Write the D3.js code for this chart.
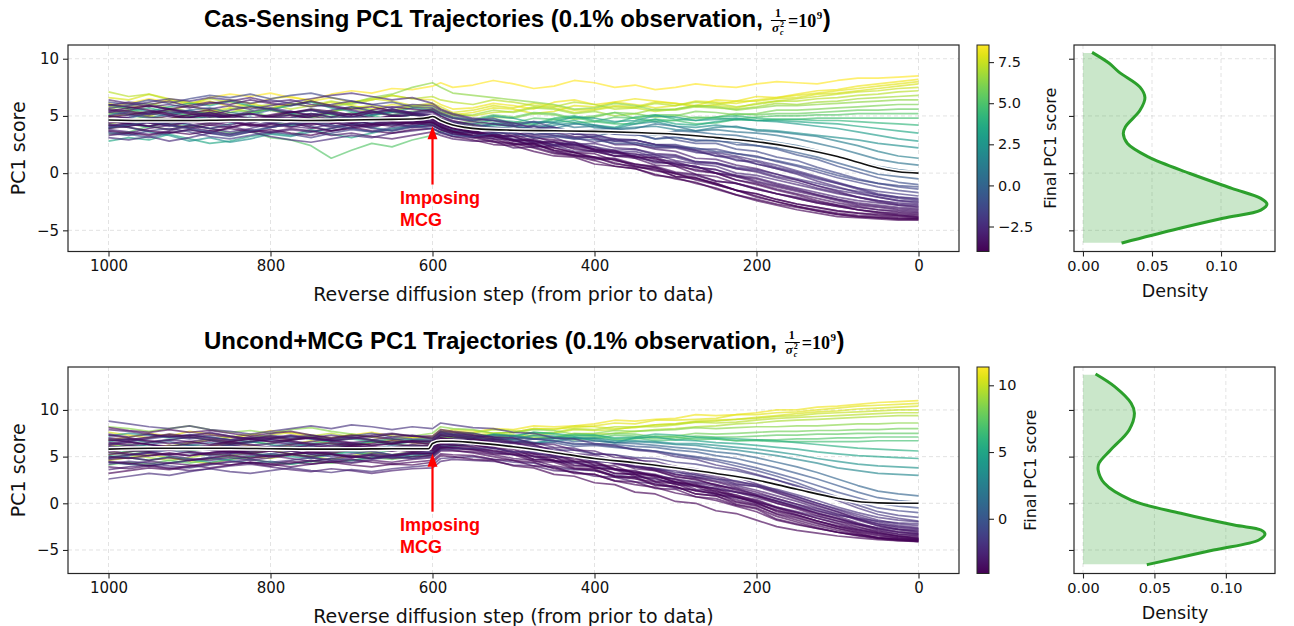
<!DOCTYPE html>
<html>
<head>
<meta charset="utf-8">
<script src="https://cdn.jsdelivr.net/npm/d3@7"></script>
<style>
  body { margin: 0; background: #fff; }
  svg { display: block; }
</style>
</head>
<body>
<svg id="fig" width="1294" height="626"></svg>
<script>
// Reverse-diffusion steps at which each trajectory is recorded
const knotSteps = [1000,975,950,925,900,875,850,825,800,775,750,725,700,675,650,625,600,590,575,550,525,500,475,450,425,400,375,350,325,300,275,250,225,200,175,150,125,100,75,50,25,0];

// Cas-Sensing: PC1 score of each sampled trajectory at knotSteps (last value = final score)
const casPaths = [
  [5.8,6.1,6.5,6.2,6.0,6.6,6.9,6.7,7.0,6.6,6.4,6.9,7.2,7.0,7.4,7.3,7.6, 7.9,7.5, 7.7,8.1,7.8,7.4,7.6,8.1,7.9,7.5,7.7,7.3,7.5,7.8,7.6,7.5,7.8,8.0,7.9,7.8,8.1,8.3,8.3,8.4,8.5],
  [6.1,5.7,5.9,6.4,6.1,6.3,5.8,6.0,6.5,6.7,6.3,6.6,6.2,6.4,6.8,6.5,6.4, 6.0,5.6, 5.7,6.1,5.9,5.6,6.2,6.4,6.0,6.2,6.5,6.3,6.1,5.9,6.4,6.3,6.7,6.6,6.9,7.2,7.3,7.6,7.8,8.0,8.2],
  [4.9,5.2,5.0,5.5,5.9,5.4,5.7,5.3,5.6,6.1,5.8,6.2,5.9,5.6,6.0,5.8,6.0, 5.6,5.1, 5.3,5.7,5.6,5.2,5.4,5.9,5.8,6.2,6.0,5.7,5.9,6.3,6.2,6.1,6.4,6.6,6.8,7.0,7.2,7.4,7.6,7.8,8.0],
  [6.6,6.4,6.9,6.5,6.2,6.0,6.4,6.1,5.7,6.0,6.3,5.9,6.2,6.5,6.3,5.9,6.1, 5.8,5.3, 5.5,5.9,5.7,6.1,5.9,5.5,5.6,5.9,5.8,6.2,6.1,5.8,6.0,6.3,6.3,6.5,6.6,6.9,7.0,7.2,7.4,7.6,7.8],
  [5.2,5.5,4.9,4.7,5.1,5.6,5.3,5.8,5.5,5.1,4.9,5.4,5.7,5.9,5.4,5.8,5.6, 5.3,5.2, 5.0,5.3,5.4,5.8,5.7,5.3,5.5,5.8,5.7,5.4,5.6,5.9,5.9,5.7,6.1,6.3,6.5,6.7,6.9,7.1,7.2,7.4,7.5],
  [7.1,6.7,6.9,6.4,6.1,6.5,6.2,5.8,6.0,5.6,5.9,6.3,6.0,6.4,6.8,6.5,6.7, 6.4,6.2, 6.0,6.4,6.2,5.9,5.8,6.2,6.0,5.6,5.7,6.1,5.9,6.2,6.1,5.8,6.0,6.3,6.3,6.5,6.6,6.8,6.9,7.1,7.2],
  [4.3,4.6,5.0,4.7,5.1,5.4,5.0,5.3,5.6,5.2,4.9,5.4,5.7,5.3,5.5,5.9,5.8, 5.4,5.0, 5.1,5.5,5.3,5.7,5.6,5.2,5.4,5.0,5.2,5.6,5.5,5.8,5.7,5.6,5.8,6.1,6.0,6.2,6.3,6.5,6.6,6.7,6.8],
  [5.6,5.9,6.1,5.7,5.4,5.2,5.6,5.9,5.5,6.0,6.3,5.8,6.1,6.6,6.9,7.5,7.9, 7.5,7.0, 6.8,6.6,6.4,6.2,6.0,5.6,5.7,6.1,5.9,5.5,5.6,5.9,5.8,5.5,5.7,5.9,5.9,6.0,6.1,6.2,6.3,6.4,6.4],
  [3.9,4.2,4.6,4.3,4.0,4.4,4.7,4.5,5.0,4.6,4.8,5.2,4.9,5.3,5.1,4.7,5.0, 4.8,4.4, 4.5,4.9,4.8,5.2,5.1,4.7,4.9,5.3,5.2,4.9,5.0,5.4,5.3,5.1,5.2,5.5,5.5,5.6,5.7,5.8,5.9,6.0,6.0],
  [5.9,5.6,5.2,5.5,5.0,4.8,5.3,5.5,4.9,5.2,5.6,5.3,5.8,5.5,5.1,5.4,5.5, 5.2,4.9, 4.7,5.1,4.9,5.3,5.2,4.8,5.0,5.3,4.8,5.1,5.1,4.8,4.9,5.2,5.1,5.2,5.2,5.3,5.4,5.5,5.5,5.6,5.6],
  [3.4,3.6,4.1,3.8,4.2,3.9,3.5,3.7,3.1,2.9,2.4,1.3,2.0,2.6,2.3,2.9,3.3, 3.6,3.8, 4.0,4.3,4.4,4.8,4.7,4.4,4.5,4.9,4.8,4.5,4.6,4.9,4.8,4.7,4.9,5.0,5.0,5.1,5.1,5.2,5.2,5.2,5.2],
  [4.6,4.3,4.0,4.5,4.9,4.6,5.1,4.8,4.5,4.2,4.6,4.9,5.3,5.0,5.4,5.1,4.9, 4.6,4.3, 4.2,4.6,4.4,4.2,4.7,4.9,4.5,4.3,4.3,4.7,4.6,4.3,4.4,4.7,4.6,4.7,4.7,4.8,4.8,4.8,4.8,4.8,4.8],
  [5.1,5.4,5.7,5.3,5.0,4.7,4.9,5.3,5.6,5.2,5.5,5.1,4.8,5.0,4.7,5.1,5.0, 4.7,4.4, 4.3,4.7,4.5,4.3,4.8,5.0,4.6,4.4,4.9,5.1,4.7,4.6,4.9,5.0,4.8,4.7,4.7,4.6,4.6,4.5,4.4,4.3,4.2],
  [2.8,3.1,2.9,3.4,3.0,2.6,2.8,3.2,3.5,3.3,3.8,3.4,3.1,3.5,3.9,4.1,4.3, 4.0,3.7, 3.8,4.2,4.1,3.8,4.4,4.6,4.2,4.0,4.5,4.7,4.3,4.2,4.5,4.7,4.6,4.6,4.5,4.4,4.3,4.1,3.9,3.7,3.5],
  [6.0,5.7,5.4,5.8,6.1,5.9,6.3,5.9,5.6,5.9,6.2,5.7,5.4,5.1,5.3,5.7,5.5, 5.1,4.8, 4.6,5.0,4.8,4.4,4.5,4.9,4.8,4.5,4.6,5.0,4.9,4.6,4.7,4.8,4.6,4.5,4.3,4.1,3.9,3.6,3.3,3.0,2.8],
  [4.2,4.0,3.6,3.3,2.8,3.1,2.7,3.0,3.4,3.2,3.6,3.9,4.3,4.0,3.7,4.1,4.2, 3.9,3.5, 3.6,4.0,3.9,3.7,4.2,4.4,4.0,3.9,4.3,4.5,4.1,4.0,4.2,4.0,3.8,3.7,3.5,3.3,3.1,2.9,2.6,2.4,2.2],
  [3.9,4.3,4.1,4.5,4.2,3.9,4.3,4.7,4.4,4.1,4.5,4.8,4.3,4.6,4.9,5.1,4.9, 4.5,4.1, 4.0,4.4,4.2,3.8,3.9,4.3,4.2,3.9,4.0,4.1,3.8,3.7,4.0,4.1,3.7,3.6,3.4,3.2,2.8,2.4,1.9,1.5,1.3],
  [5.3,5.1,4.8,5.2,5.5,5.1,4.7,4.9,4.5,4.8,5.2,4.9,4.6,4.3,4.6,4.5,4.8, 4.4,4.0, 3.9,4.3,4.1,4.5,4.4,4.0,4.1,3.8,3.9,4.3,4.1,3.7,3.8,3.6,3.5,3.3,3.0,2.6,2.2,1.7,1.2,0.9,0.7],
  [4.5,4.8,5.2,5.0,5.5,5.7,5.3,5.1,5.5,5.2,4.9,5.3,4.8,5.1,5.4,5.2,5.0, 4.6,4.2, 4.0,3.6,3.7,4.2,4.0,3.6,3.8,3.9,3.5,3.3,3.7,3.6,3.4,3.3,3.0,2.7,2.4,2.0,1.5,1.0,0.6,0.3,0.1],
  [3.6,3.4,3.1,3.5,3.8,3.5,3.2,3.6,4.0,4.3,4.1,3.7,4.0,4.4,4.2,4.5,4.6, 4.2,3.8, 3.6,4.0,3.8,3.4,3.5,3.1,3.2,3.6,3.4,3.0,3.1,2.9,2.8,2.7,2.4,2.2,1.8,1.4,0.9,0.4,-0.1,-0.3,-0.5],
  [4.8,4.5,4.7,4.3,4.6,5.0,4.8,4.4,4.7,5.1,4.8,4.5,4.2,4.6,4.9,5.2,4.9, 4.5,4.2, 4.0,3.6,3.8,4.1,3.7,3.4,3.7,3.4,3.5,3.0,3.2,2.8,2.9,2.5,2.4,2.1,1.6,1.2,0.6,0.1,-0.4,-0.8,-1.0],
  [6.2,6.0,6.4,6.1,6.5,6.8,6.6,6.9,6.5,6.8,7.0,6.6,6.3,6.0,6.2,5.8,5.7, 5.3,4.9, 4.6,4.8,4.3,4.5,4.0,3.6,3.8,3.4,3.3,3.5,2.9,2.6,2.6,2.1,1.9,1.4,1.1,0.5,0.0,-0.5,-0.9,-1.2,-1.4],
  [3.5,3.3,3.7,3.9,3.6,3.2,3.0,3.3,3.6,3.4,3.1,3.5,3.8,3.6,4.0,4.2,4.4, 4.0,3.6, 3.5,3.1,3.3,3.6,3.3,3.0,3.2,2.8,2.9,2.5,2.5,2.1,2.1,1.7,1.5,1.0,0.6,0.1,-0.4,-0.8,-1.2,-1.5,-1.7],
  [5.5,5.2,4.9,4.6,4.9,5.3,5.0,5.4,5.7,5.4,5.1,5.5,5.8,5.4,5.1,5.3,5.4, 5.0,4.5, 4.3,4.0,3.9,3.6,3.5,3.6,3.0,2.8,2.7,2.3,2.3,1.9,1.5,1.2,0.8,0.4,0.0,-0.5,-0.9,-1.3,-1.6,-1.8,-2.0],
  [4.0,4.3,4.1,4.6,4.3,3.9,3.6,3.9,4.3,4.6,4.4,4.0,4.3,3.9,3.7,4.0,4.2, 3.8,3.4, 3.3,3.4,2.9,2.8,2.5,2.7,2.3,2.0,2.1,1.6,1.5,1.0,0.9,0.5,0.3,-0.1,-0.5,-0.9,-1.3,-1.6,-1.9,-2.1,-2.2],
  [4.7,4.9,5.3,5.6,5.4,5.0,4.8,5.2,4.9,5.3,5.5,5.2,4.9,5.3,5.6,5.3,5.1, 4.7,4.4, 4.0,3.7,3.8,3.4,3.3,3.1,2.7,3.0,2.5,2.2,2.2,1.8,1.7,1.1,1.0,0.5,0.1,-0.4,-0.9,-1.4,-1.9,-2.2,-2.4],
  [3.1,2.9,3.2,2.8,3.1,3.5,3.3,3.6,3.2,2.9,2.7,3.0,3.3,3.1,3.5,3.7,3.9, 3.5,3.2, 3.1,3.3,2.8,2.6,2.4,2.5,2.0,1.8,1.9,1.4,1.4,0.9,0.8,0.4,0.2,-0.3,-0.6,-1.1,-1.5,-1.8,-2.1,-2.4,-2.5],
  [5.9,6.2,6.0,6.3,5.8,5.6,5.9,5.6,5.9,6.2,6.5,6.8,7.0,6.7,6.4,6.6,6.1, 5.6,5.2, 4.8,4.6,4.4,3.9,4.0,3.4,3.4,2.9,2.9,2.5,2.3,2.0,1.5,1.4,0.8,0.4,-0.1,-0.7,-1.2,-1.7,-2.1,-2.4,-2.6],
  [4.3,4.1,4.4,4.1,4.5,4.8,4.5,4.2,4.4,4.1,3.9,4.3,4.6,4.2,4.4,4.1,4.5, 4.1,3.7, 3.5,3.5,3.0,2.8,2.5,2.6,2.1,1.9,1.6,1.6,1.1,0.8,0.6,0.0,-0.2,-0.6,-1.0,-1.4,-1.8,-2.1,-2.4,-2.6,-2.7],
  [5.0,5.3,5.1,5.4,5.2,5.0,5.5,5.8,5.6,5.3,5.5,5.2,4.9,5.3,5.6,5.2,5.3, 4.8,4.5, 4.0,3.7,3.5,3.3,3.1,2.5,2.6,2.2,2.1,1.7,1.6,1.0,0.9,0.4,0.1,-0.4,-0.8,-1.3,-1.7,-2.1,-2.4,-2.7,-2.8],
  [3.8,3.6,3.4,3.7,4.1,4.4,4.2,4.6,4.9,4.5,4.3,4.7,5.0,4.6,4.3,4.0,4.1, 3.8,3.4, 3.2,3.0,2.9,2.3,2.4,1.9,1.9,1.5,1.5,0.9,0.9,0.5,0.3,-0.2,-0.4,-0.9,-1.3,-1.7,-2.1,-2.4,-2.6,-2.8,-2.9],
  [6.4,6.1,5.8,6.0,5.7,6.1,6.3,6.6,6.2,6.4,6.0,5.8,5.5,5.2,5.5,5.3,5.6, 5.2,4.8, 4.5,4.3,4.1,3.6,3.6,3.2,3.1,2.5,2.5,2.1,1.9,1.3,1.2,0.7,0.4,-0.1,-0.6,-1.1,-1.6,-2.1,-2.5,-2.8,-3.0],
  [4.6,4.4,4.1,3.8,4.2,3.9,4.1,3.7,3.5,3.8,3.6,3.9,4.2,4.0,4.4,4.3,4.6, 4.2,3.9, 3.6,3.5,2.9,3.0,2.4,2.2,1.9,1.8,1.3,1.1,0.7,0.6,0.0,-0.2,-0.7,-1.1,-1.5,-1.9,-2.3,-2.6,-2.8,-3.0,-3.1],
  [5.3,5.5,5.9,5.6,5.2,4.9,5.1,4.7,4.4,4.7,5.0,5.3,5.1,5.4,5.0,4.8,4.7, 4.3,3.9, 3.6,3.4,3.2,2.7,2.8,2.4,2.3,1.7,1.7,1.2,1.0,0.5,0.3,-0.3,-0.5,-1.0,-1.4,-1.9,-2.3,-2.7,-2.9,-3.1,-3.2],
  [4.1,4.4,4.7,5.0,4.8,5.2,4.9,4.6,4.9,4.7,4.4,4.1,4.4,4.7,5.0,4.8,5.1, 4.7,4.3, 3.9,3.8,3.2,3.2,2.7,2.5,2.1,2.0,1.4,1.4,0.8,0.6,0.0,-0.3,-0.8,-1.2,-1.6,-2.0,-2.4,-2.8,-3.0,-3.2,-3.3],
  [3.3,3.5,3.9,4.2,4.0,3.7,3.4,3.8,3.6,3.9,3.7,3.3,3.5,3.2,3.0,3.3,3.6, 3.3,3.0, 2.8,2.8,2.2,2.3,1.8,1.6,1.2,1.2,0.7,0.5,0.0,-0.2,-0.7,-0.9,-1.4,-1.8,-2.1,-2.5,-2.8,-3.0,-3.2,-3.3,-3.4],
  [5.6,5.4,5.2,5.6,5.9,6.2,6.0,6.4,6.1,5.9,6.3,5.9,5.6,5.8,5.4,5.2,5.0, 4.6,4.3, 3.9,3.6,3.4,2.8,2.7,2.3,2.1,1.5,1.5,1.0,0.8,0.2,0.0,-0.6,-0.9,-1.4,-1.8,-2.2,-2.6,-2.9,-3.2,-3.4,-3.5],
  [4.4,4.7,4.5,4.2,3.9,4.2,4.5,4.1,4.3,4.0,4.4,4.7,4.4,4.1,4.3,4.6,4.4, 4.0,3.6, 3.3,3.2,2.6,2.6,2.0,1.8,1.4,1.3,0.8,0.6,0.1,-0.1,-0.7,-0.9,-1.4,-1.8,-2.2,-2.6,-2.9,-3.2,-3.4,-3.5,-3.6],
  [5.0,4.8,4.4,4.2,4.5,4.2,4.0,4.4,4.7,4.9,5.2,4.9,5.2,4.8,4.6,4.8,4.9, 4.5,4.1, 3.7,3.3,3.2,2.6,2.7,2.1,1.9,1.5,1.3,0.7,0.6,-0.1,-0.3,-0.9,-1.3,-1.8,-2.2,-2.6,-2.9,-3.2,-3.4,-3.6,-3.7],
  [3.9,4.1,4.5,4.8,5.1,5.3,4.9,4.6,4.8,4.5,4.2,4.5,4.1,4.3,4.7,4.4,4.2, 3.8,3.5, 3.1,2.7,2.5,2.6,1.9,1.5,1.4,0.8,0.6,0.3,-0.3,-0.4,-1.0,-1.5,-1.8,-2.3,-2.7,-3.0,-3.3,-3.5,-3.6,-3.7,-3.8],
  [6.0,5.8,5.5,5.2,4.9,5.1,4.8,4.6,5.0,5.3,5.6,5.4,5.1,5.5,5.8,5.6,5.4, 5.0,4.6, 4.2,3.8,3.6,3.1,2.9,2.7,2.0,1.9,1.4,1.3,0.6,0.3,0.0,-0.6,-1.0,-1.5,-1.9,-2.4,-2.8,-3.2,-3.5,-3.7,-3.85],
  [4.2,4.0,3.7,3.5,3.8,3.5,4.0,4.3,4.1,4.4,4.0,3.7,3.9,4.2,4.5,4.3,4.5, 4.1,3.7, 3.3,3.0,2.5,2.5,2.0,1.6,1.4,0.9,0.5,0.4,-0.3,-0.5,-0.9,-1.5,-1.8,-2.3,-2.7,-3.0,-3.3,-3.5,-3.7,-3.8,-3.9],
  [4.9,5.1,5.4,5.1,4.7,4.4,4.6,4.2,4.0,4.3,4.6,4.3,4.7,4.9,4.5,4.4,4.7, 4.3,3.9, 3.5,3.2,2.9,2.4,2.2,1.8,1.3,1.2,0.6,0.2,0.0,-0.6,-1.0,-1.5,-2.1,-2.5,-2.9,-3.2,-3.5,-3.7,-3.8,-3.9,-3.95],
  [3.7,3.5,3.3,3.6,3.4,3.7,3.9,3.6,3.8,3.5,3.3,3.7,4.0,3.7,3.5,3.8,3.9, 3.6,3.2, 2.9,2.5,2.4,1.9,1.5,1.4,0.8,0.6,0.4,-0.2,-0.4,-0.9,-1.3,-1.9,-2.3,-2.7,-3.0,-3.3,-3.6,-3.8,-3.9,-4.0,-4.0],
  [5.4,5.7,5.9,5.6,5.3,5.5,5.1,4.8,5.1,5.4,5.0,4.7,4.4,4.7,5.0,5.1,4.8, 4.4,4.0, 3.6,3.3,2.8,2.9,2.2,1.8,1.7,1.1,0.8,0.5,-0.1,-0.4,-0.9,-1.5,-2.0,-2.5,-2.9,-3.3,-3.6,-3.8,-3.9,-4.0,-4.05],
  [4.5,4.3,4.1,4.4,4.8,4.6,5.0,5.2,4.9,5.1,4.8,4.4,4.7,4.3,4.1,4.5,4.4, 4.0,3.6, 3.2,2.8,2.6,2.2,1.7,1.5,1.1,0.6,0.4,-0.1,-0.5,-0.8,-1.4,-1.9,-2.4,-2.8,-3.2,-3.5,-3.8,-3.9,-4.0,-4.1,-4.1],
  [4.0,4.2,4.5,4.2,3.9,3.6,3.4,3.7,4.0,4.3,4.5,4.2,3.9,3.6,3.8,4.1,3.9, 3.6,3.3, 3.2,3.5,3.5,3.1,3.2,3.0,2.9,2.6,2.6,2.4,2.3,2.2,1.9,1.7,1.4,1.1,0.7,0.3,-0.2,-0.6,-0.9,-1.1,-1.2],
  [5.7,5.9,6.2,6.5,6.3,6.6,6.4,6.1,6.4,6.1,5.8,6.0,6.3,6.0,5.7,6.0,5.9, 5.5,5.1, 4.7,4.6,4.2,4.1,3.8,3.4,3.3,3.0,2.9,2.5,2.4,2.0,1.8,1.5,1.1,0.7,0.2,-0.3,-0.8,-1.3,-1.8,-2.1,-2.3]
];

// Uncond+MCG: PC1 score of each sampled trajectory at knotSteps
const uncondPaths = [
  [6.8,7.1,7.5,7.2,7.7,7.4,7.0,7.3,7.8,7.5,7.1,6.9,7.3,7.6,7.2,7.0,7.2, 7.9,7.7, 7.6,8.0,7.9,8.3,8.2,8.3,8.5,8.9,8.8,9.0,9.1,9.5,9.4,9.5,9.7,10.0,10.0,10.3,10.4,10.6,10.8,10.9,11.0],
  [5.2,5.5,5.9,6.2,5.8,6.1,6.5,6.2,5.9,6.3,6.7,6.4,6.1,6.5,6.8,6.5,6.4, 7.1,7.0, 7.3,7.5,7.6,8.0,8.0,8.1,8.3,8.6,8.5,8.9,8.9,9.0,9.1,9.5,9.5,9.7,9.8,10.0,10.2,10.4,10.5,10.6,10.7],
  [7.6,7.3,7.0,7.4,7.1,6.8,6.6,7.0,7.3,7.6,7.3,7.0,7.4,7.1,6.8,7.1,6.9, 7.6,7.9, 7.8,7.5,7.6,8.0,7.9,8.3,8.2,8.0,8.1,8.4,8.5,8.8,8.9,9.0,9.2,9.4,9.6,9.8,9.9,10.1,10.2,10.3,10.4],
  [4.6,4.9,5.2,4.9,4.5,4.3,4.7,5.0,4.8,5.2,5.0,4.7,5.1,5.4,5.2,5.5,5.8, 6.5,6.6, 6.8,7.1,7.2,7.3,7.5,7.9,7.8,7.9,8.2,8.4,8.5,8.7,8.8,9.0,9.1,9.3,9.4,9.6,9.7,9.8,9.9,10.0,10.0],
  [6.3,6.0,5.7,6.1,6.5,6.8,7.1,7.4,7.1,6.8,7.2,7.5,7.1,6.8,6.5,6.8,6.6, 7.3,7.6, 7.5,7.9,7.8,7.5,7.6,8.0,7.9,8.2,8.2,8.2,8.4,8.7,8.6,8.7,8.9,9.1,9.2,9.3,9.4,9.5,9.6,9.7,9.7],
  [5.5,5.2,4.9,4.6,4.9,5.3,5.1,5.4,5.7,5.3,5.0,5.4,5.7,5.5,5.9,6.2,6.1, 6.8,7.1, 7.0,7.4,7.3,7.0,7.1,7.5,7.4,7.5,7.7,7.9,8.0,8.2,8.3,8.5,8.6,8.8,8.9,9.0,9.1,9.2,9.3,9.4,9.4],
  [8.2,8.0,7.7,8.0,8.3,7.9,7.6,7.8,7.5,7.9,8.1,7.7,7.4,7.1,7.4,7.2,7.5, 8.2,8.0, 7.9,7.5,7.6,7.9,7.8,7.4,7.5,7.8,7.7,7.8,7.9,8.1,8.0,8.1,8.2,8.2,8.3,8.3,8.4,8.5,8.5,8.6,8.6],
  [4.9,5.2,5.6,5.9,5.6,6.0,5.8,5.5,5.8,6.1,5.7,6.0,6.3,6.6,6.4,6.1,6.2, 6.9,7.2, 7.1,7.4,7.3,6.9,7.0,7.3,7.2,7.5,7.4,7.1,7.2,7.5,7.4,7.5,7.6,7.7,7.7,7.8,7.8,7.9,7.9,8.0,8.0],
  [4.1,4.4,4.2,4.6,4.3,4.7,5.0,4.7,4.4,4.2,4.5,4.3,4.6,4.9,4.7,5.0,5.1, 5.8,6.2, 6.5,6.9,6.8,7.2,7.1,6.8,6.9,7.3,7.2,6.9,7.0,7.2,7.1,7.1,7.2,7.3,7.3,7.4,7.4,7.5,7.5,7.5,7.5],
  [6.0,6.3,6.1,5.8,5.6,5.9,6.3,6.6,6.4,6.8,7.1,6.8,7.1,6.8,6.5,6.8,7.0, 7.7,7.4, 7.5,7.1,7.2,7.6,7.4,7.0,7.1,6.8,6.9,7.2,7.1,6.8,6.9,6.7,6.8,6.8,6.9,6.9,7.0,7.0,7.1,7.1,7.1],
  [5.8,5.5,5.7,6.1,6.3,6.0,5.7,5.4,5.1,5.3,5.0,5.3,5.6,5.3,5.7,6.0,5.9, 6.6,6.8, 6.9,7.3,7.2,6.9,7.0,7.4,7.3,6.9,7.0,6.7,6.8,7.0,6.9,6.7,6.7,6.6,6.6,6.6,6.6,6.6,6.7,6.7,6.7],
  [6.6,6.9,6.5,6.8,7.1,6.8,6.4,6.6,6.3,6.0,6.4,6.7,6.9,6.6,6.3,6.6,6.5, 7.2,7.1, 7.0,7.4,7.2,7.6,7.5,7.2,7.3,7.0,7.1,7.4,7.3,7.1,7.0,6.9,6.8,6.7,6.5,6.3,6.1,5.9,5.8,5.7,5.6],
  [5.1,4.9,4.6,5.0,4.7,4.4,4.7,5.0,5.3,5.0,4.8,5.2,5.5,5.1,4.9,5.2,5.3, 6.0,6.1, 6.3,6.7,6.6,6.4,6.9,7.1,6.7,6.5,7.0,7.1,6.8,6.7,6.5,6.4,6.2,6.0,5.8,5.5,5.3,5.1,5.0,4.9,4.8],
  [7.2,7.5,7.3,7.0,7.3,7.1,6.8,6.6,6.9,7.2,6.9,6.6,6.3,6.6,6.9,6.8,6.7, 7.4,7.3, 7.1,6.8,6.9,7.3,7.2,6.9,7.0,6.7,6.7,6.6,6.4,6.4,6.2,6.0,5.8,5.5,5.2,4.8,4.5,4.2,4.0,3.9,3.8],
  [4.4,4.2,4.0,4.3,4.6,4.9,4.6,4.3,4.5,4.2,4.5,4.8,4.6,4.9,5.2,5.0,5.5, 6.2,6.4, 6.6,7.0,6.9,6.5,6.6,7.0,6.9,6.5,6.6,6.5,6.3,6.2,5.9,5.7,5.4,5.1,4.7,4.3,3.8,3.5,3.2,3.1,3.0],
  [5.7,6.0,6.3,5.9,6.2,6.5,6.2,5.9,6.1,6.4,6.1,5.8,5.5,5.8,6.2,5.9,6.0, 6.7,6.8, 6.9,7.3,7.2,6.9,7.0,6.6,6.7,6.5,6.4,6.2,6.0,5.8,5.5,5.3,4.9,4.4,3.9,3.3,2.6,1.9,1.3,1.0,0.8],
  [6.9,6.6,6.3,6.6,6.2,5.9,6.2,6.5,6.8,6.5,6.2,6.4,6.0,5.7,5.9,6.2,5.9, 6.6,6.9, 6.8,6.4,6.5,6.9,6.7,6.3,6.4,6.3,6.1,6.0,5.7,5.5,5.1,4.8,4.3,3.8,3.2,2.6,1.9,1.2,0.6,0.3,0.1],
  [4.8,5.1,5.4,5.7,5.4,5.1,5.3,5.6,5.9,5.6,5.2,5.5,5.8,5.5,5.2,5.4,5.6, 6.3,6.4, 6.5,6.9,6.8,6.4,6.5,6.1,6.2,6.0,5.8,5.6,5.3,5.0,4.7,4.3,3.8,3.2,2.6,1.9,1.2,0.6,0.0,-0.3,-0.5],
  [6.3,6.6,6.9,7.2,6.9,7.1,6.8,7.0,7.3,7.0,7.3,6.9,7.2,7.5,7.1,6.9,6.8, 7.5,7.4, 7.3,7.1,7.0,6.9,6.7,6.4,6.3,6.1,5.8,5.6,5.2,4.9,4.5,4.0,3.5,2.9,2.2,1.4,0.7,0.1,-0.5,-0.8,-1.0],
  [5.4,5.2,5.5,5.8,6.0,5.7,5.4,5.1,5.3,5.6,5.3,5.0,5.3,5.6,5.2,5.5,5.4, 6.1,6.2, 6.3,6.3,6.0,6.1,5.7,5.7,5.3,5.2,4.9,4.8,4.4,4.2,3.8,3.5,3.0,2.5,1.9,1.2,0.5,-0.2,-0.9,-1.3,-1.5],
  [8.8,8.5,8.2,8.0,8.3,7.9,7.7,7.4,7.7,8.0,8.3,8.0,8.4,8.2,7.9,8.2,8.0, 8.6,8.4, 8.1,8.0,7.6,7.5,7.0,6.9,6.4,6.2,5.7,5.5,5.0,4.7,4.1,3.7,3.1,2.5,1.8,1.1,0.3,-0.5,-1.2,-1.6,-1.9],
  [2.6,2.9,3.2,3.0,3.4,3.7,3.4,3.2,3.5,3.8,3.5,3.3,3.6,3.4,3.7,3.9,4.1, 4.8,4.9, 5.0,4.7,4.4,4.3,3.8,3.6,3.5,3.0,2.8,2.6,2.1,1.9,1.6,1.2,0.8,0.3,-0.3,-0.8,-1.3,-1.6,-1.9,-2.1,-2.2],
  [6.1,5.9,5.6,5.9,5.6,5.3,5.5,5.8,6.1,5.9,5.6,5.9,6.2,5.9,5.6,5.8,6.0, 6.7,6.8, 6.6,6.2,6.1,5.6,5.5,5.0,4.9,4.3,4.2,3.6,3.5,2.8,2.6,2.0,1.8,1.3,0.7,0.0,-0.6,-1.2,-1.8,-2.2,-2.4],
  [7.4,7.1,7.4,7.1,7.3,7.6,7.2,6.9,7.1,6.8,7.0,7.3,7.0,6.8,7.1,7.3,6.9, 7.6,7.4, 7.2,7.1,6.6,6.5,6.0,5.9,5.3,5.2,4.6,4.5,3.9,3.7,3.1,2.8,2.1,1.4,0.7,0.0,-0.7,-1.4,-2.0,-2.4,-2.6],
  [4.9,5.2,5.4,5.1,4.8,4.6,4.9,4.6,4.9,5.2,4.9,4.6,4.9,5.2,5.0,4.8,5.2, 5.9,6.0, 5.8,5.5,5.2,5.0,4.5,4.3,4.1,3.6,3.3,3.0,2.6,2.3,2.0,1.5,1.0,0.5,-0.1,-0.6,-1.2,-1.7,-2.2,-2.5,-2.7],
  [6.7,6.9,6.6,6.8,7.1,6.8,6.6,6.9,6.6,6.3,6.6,6.9,7.1,6.8,6.5,6.7,6.5, 7.2,7.2, 7.0,6.6,6.5,6.0,5.9,5.3,5.2,4.6,4.5,3.8,3.7,3.0,2.8,2.1,1.8,1.1,0.4,-0.3,-0.9,-1.6,-2.2,-2.6,-2.8],
  [3.6,3.9,4.1,3.8,3.5,3.7,4.0,4.2,3.9,3.6,3.4,3.7,3.5,3.2,3.5,3.7,3.8, 4.5,4.7, 4.6,4.5,4.1,4.0,3.5,3.4,2.9,2.8,2.3,2.1,1.6,1.4,0.9,0.6,0.1,-0.4,-0.9,-1.4,-1.9,-2.3,-2.6,-2.8,-2.9],
  [5.9,6.2,6.5,6.8,6.6,6.9,6.6,6.3,6.0,6.2,5.9,6.2,6.5,6.2,6.4,6.1,6.2, 6.9,6.8, 6.7,6.3,6.0,5.8,5.3,5.0,4.8,4.2,3.9,3.6,3.1,2.8,2.4,1.9,1.4,0.8,0.2,-0.5,-1.1,-1.8,-2.4,-2.8,-3.0],
  [7.9,7.7,7.4,7.1,7.3,7.0,6.8,7.1,6.9,7.2,6.9,6.7,7.0,7.3,7.5,7.2,7.2, 7.9,7.7, 7.5,7.1,7.0,6.4,6.3,5.7,5.6,4.9,4.8,4.1,4.0,3.2,3.0,2.3,2.0,1.2,0.5,-0.2,-0.9,-1.7,-2.4,-2.8,-3.1],
  [4.4,4.2,4.5,4.3,4.6,4.9,5.2,4.9,5.1,4.8,4.5,4.8,5.1,4.8,5.0,5.3,5.3, 6.0,5.9, 5.8,5.7,5.2,5.1,4.5,4.4,3.8,3.7,3.1,2.9,2.3,2.1,1.5,1.2,0.6,0.0,-0.5,-1.1,-1.6,-2.2,-2.7,-3.0,-3.2],
  [6.5,6.2,5.9,5.7,6.0,6.2,6.5,6.2,6.4,6.7,6.4,6.1,6.3,6.0,5.8,6.0,5.8, 6.5,6.5, 6.3,5.9,5.6,5.4,4.9,4.5,4.3,3.7,3.4,3.1,2.5,2.2,1.8,1.2,0.8,0.2,-0.4,-1.0,-1.6,-2.2,-2.8,-3.1,-3.3],
  [5.2,5.5,5.9,6.1,5.8,6.0,5.7,5.4,5.6,5.9,5.5,5.3,5.0,5.3,5.1,5.3,5.4, 6.1,6.0, 5.8,5.4,5.3,4.7,4.6,4.0,3.9,3.2,3.1,2.4,2.3,1.5,1.3,0.6,0.3,-0.5,-1.0,-1.6,-2.1,-2.6,-3.0,-3.3,-3.4],
  [7.0,6.8,7.1,7.4,7.2,7.5,7.2,6.9,7.2,6.9,7.1,6.8,6.5,6.7,6.4,6.6,6.3, 7.0,6.9, 6.8,6.7,6.1,6.0,5.3,5.2,4.5,4.4,3.7,3.5,2.8,2.6,1.9,1.6,0.9,0.2,-0.4,-1.1,-1.7,-2.3,-2.9,-3.3,-3.5],
  [3.9,3.7,4.0,4.3,4.1,3.8,4.1,4.4,4.2,3.9,4.2,4.5,4.3,4.6,4.4,4.7,4.9, 5.6,5.6, 5.5,5.2,4.8,4.6,4.0,3.7,3.5,2.9,2.6,2.3,1.7,1.4,1.0,0.4,-0.1,-0.8,-1.3,-1.9,-2.4,-2.8,-3.2,-3.5,-3.6],
  [6.2,6.5,6.3,6.0,5.8,6.1,6.3,6.0,5.7,5.9,6.2,5.9,6.1,5.8,6.0,6.3,6.1, 6.8,6.7, 6.5,6.1,6.0,5.3,5.2,4.5,4.4,3.6,3.5,2.8,2.6,1.8,1.6,0.8,0.4,-0.4,-1.0,-1.6,-2.2,-2.8,-3.2,-3.5,-3.7],
  [5.6,5.3,5.1,5.4,5.1,5.4,5.7,5.5,5.8,6.0,5.7,5.4,5.7,6.0,5.8,5.5,5.7, 6.4,6.3, 6.1,6.0,5.4,5.3,4.6,4.5,3.8,3.6,2.9,2.7,2.0,1.8,1.0,0.7,0.0,-0.7,-1.3,-1.9,-2.5,-2.9,-3.3,-3.6,-3.75],
  [8.1,7.8,7.6,7.9,7.6,7.8,7.5,7.2,7.5,7.7,7.3,7.0,7.3,7.1,7.4,7.2,7.0, 7.7,7.6, 7.3,6.9,6.5,6.3,5.6,5.2,5.0,4.3,3.9,3.5,2.9,2.5,2.0,1.4,0.8,0.0,-0.6,-1.3,-1.9,-2.5,-3.1,-3.5,-3.8],
  [4.7,4.9,4.6,4.9,4.6,4.8,5.1,4.8,5.1,5.3,5.0,5.3,5.0,4.8,5.1,5.4,5.3, 6.0,5.9, 5.7,5.3,5.2,4.5,4.4,3.7,3.6,2.8,2.7,1.9,1.8,1.0,0.8,0.1,-0.3,-1.1,-1.6,-2.2,-2.7,-3.1,-3.5,-3.7,-3.85],
  [6.8,6.6,6.3,6.1,6.4,6.7,6.4,6.6,6.9,6.6,6.3,6.5,6.2,6.4,6.7,6.5,6.3, 7.0,6.8, 6.6,6.5,5.9,5.8,5.0,4.9,4.1,4.0,3.2,3.0,2.2,2.0,1.2,0.9,0.2,-0.5,-1.2,-1.9,-2.5,-3.0,-3.4,-3.7,-3.9],
  [5.0,4.8,5.1,5.3,5.1,5.4,5.6,5.3,5.0,5.2,5.5,5.2,4.9,5.1,4.8,5.0,5.1, 5.8,5.7, 5.4,5.0,4.6,4.4,3.7,3.3,3.1,2.4,2.0,1.7,1.1,0.7,0.3,-0.3,-0.9,-1.8,-2.3,-2.7,-3.1,-3.4,-3.7,-3.85,-3.95],
  [6.0,5.7,5.5,5.2,5.5,5.2,5.4,5.7,5.9,5.6,5.3,5.6,5.9,6.1,5.8,6.0,5.9, 6.6,6.5, 6.3,5.9,5.8,5.0,4.9,4.1,4.0,3.2,3.1,2.3,2.1,1.3,1.1,0.2,-0.2,-1.2,-1.8,-2.4,-2.9,-3.3,-3.7,-3.9,-4.0],
  [3.2,3.5,3.8,3.6,3.9,4.2,4.5,4.3,4.0,4.3,4.6,4.4,4.1,3.9,4.2,4.1,4.4, 5.1,5.0, 4.7,4.6,4.0,3.8,3.1,2.9,2.2,2.0,1.2,1.0,0.2,0.0,-0.8,-1.1,-1.8,-2.5,-2.9,-3.2,-3.5,-3.7,-3.9,-4.0,-4.05],
  [7.3,7.0,6.7,6.4,6.6,6.3,6.6,6.9,6.6,6.8,7.0,6.7,6.4,6.2,6.4,6.7,6.6, 7.3,7.1, 6.9,6.5,6.1,5.9,5.1,4.7,4.5,3.7,3.3,3.0,2.3,1.9,1.4,0.7,0.1,-0.9,-1.5,-2.1,-2.7,-3.2,-3.7,-3.9,-4.1],
  [5.5,5.8,6.0,5.7,6.0,5.8,5.5,5.3,5.6,5.3,5.5,5.8,6.1,5.8,5.6,5.9,5.6, 6.3,6.2, 6.0,5.6,5.5,4.7,4.6,3.8,3.7,2.9,2.8,2.0,1.8,1.0,0.8,-0.1,-0.5,-1.4,-2.0,-2.6,-3.1,-3.5,-3.8,-4.0,-4.1],
  [4.2,4.5,4.3,4.0,3.8,4.1,4.4,4.7,4.4,4.6,4.9,4.6,4.4,4.7,5.0,4.8,5.0, 5.7,5.8, 5.9,5.9,5.5,5.5,5.0,5.0,4.5,4.4,3.9,3.8,3.3,3.1,2.6,2.4,1.9,1.5,0.9,0.3,-0.4,-1.0,-1.5,-1.8,-2.0],
  [6.4,6.7,7.0,7.3,7.0,7.3,7.1,6.8,7.0,7.3,7.0,6.7,6.9,7.2,6.9,6.6,6.7, 7.4,7.3, 7.1,6.8,6.4,6.2,5.6,5.2,5.0,4.4,4.0,3.7,3.1,2.7,2.3,1.7,1.2,0.5,-0.1,-0.8,-1.4,-2.1,-2.7,-3.1,-3.3],
  [4.5,4.3,4.0,3.7,4.0,4.3,4.1,4.4,4.2,4.5,4.2,4.4,4.7,4.4,4.2,4.4,4.6, 5.3,5.2, 5.1,4.7,4.6,4.0,3.9,3.2,3.1,2.4,2.3,1.6,1.5,0.7,0.5,-0.2,-0.6,-1.7,-2.2,-2.7,-3.1,-3.4,-3.7,-3.8,-3.9]
];

// Mean trajectory over all samples
const casMeanSteps = [1000,950,900,850,800,750,700,650,620,605,600,590,575,560,540,500,450,400,350,300,250,200,150,100,75,50,25,0];
const casMean = [4.65,4.6,4.6,4.65,4.65,4.6,4.65,4.7,4.75,4.85,4.95,4.6,4.2,4.0,3.85,3.75,3.7,3.65,3.55,3.4,3.1,2.75,2.2,1.45,0.95,0.45,0.12,0.0];
const uncondMeanSteps = [1000,950,900,850,800,750,700,650,605,600,590,575,550,500,450,400,350,300,250,200,150,100,75,50,25,0];
const uncondMean = [5.8,5.9,5.9,5.9,5.85,5.8,5.8,5.85,5.85,6.4,6.65,6.65,6.5,6.05,5.45,4.8,4.35,3.8,3.2,2.5,1.5,0.55,0.2,0.05,0.0,0.0];

// Kernel density of final PC1 score: [score, density]
const casDensity = [
  [10.49,0.0075],[9.6,0.019],[8.83,0.0261],[7.52,0.0413],[6.6,0.0449],[5.49,0.0413],[4.04,0.0307],
  [3.46,0.0292],[2.59,0.0322],[1.42,0.0473],[-0.03,0.0775],[-1.33,0.1078],[-2.21,0.1288],[-2.7,0.1333],
  [-3.23,0.1288],[-3.95,0.1014],[-4.97,0.0652],[-6.08,0.029]
];
const uncondDensity = [
  [13.77,0.0097],[12.5,0.0222],[10.72,0.0337],[9.65,0.036],[7.86,0.0323],[5.71,0.0193],[4.29,0.0112],
  [3.57,0.0106],[2.14,0.015],[0.35,0.0337],[-1.07,0.0684],[-2.33,0.1058],[-2.86,0.1246],[-3.29,0.1274],
  [-3.93,0.1231],[-5.01,0.0914],[-6.54,0.0457]
];

// Range of final scores shown on each colour bar
const casColorDomain = [-4.02, 8.54];
const uncondColorDomain = [-4.1, 11.37];

// Tick values
const xTicks = [1000, 800, 600, 400, 200, 0];
const scoreTicks = [-5, 0, 5, 10];
const casCbarTicks = [-2.5, 0, 2.5, 5, 7.5];
const uncondCbarTicks = [0, 5, 10];
const densityTicks = [0, 0.05, 0.10];

const svg = d3.select("#fig");
const SANS = "'DejaVu Sans', sans-serif";
const TITLE = "'Liberation Sans', Arial, sans-serif";
const SERIF = "'Liberation Serif', 'Times New Roman', serif";
const FRAME = "#262626";

// viridis gradient, shared by both colour bars
const defs = svg.append("defs");
const grad = defs.append("linearGradient").attr("id", "viridis")
  .attr("x1", 0).attr("y1", 1).attr("x2", 0).attr("y2", 0);
d3.range(0, 1.0001, 0.05).forEach(t => {
  grad.append("stop").attr("offset", t).attr("stop-color", d3.interpolateViridis(t));
});

function styleAxis(g, size) {
  g.select(".domain").remove();
  g.selectAll(".tick line").attr("stroke", FRAME).attr("stroke-width", 1.1);
  g.selectAll(".tick text").attr("fill", "#111").style("font-family", SANS).style("font-size", size + "px");
}

function gridLines(g, xs, ys, xScale, yScale, x0, x1, y0, y1) {
  const grid = g.append("g").attr("stroke", "#b0b0b0").attr("stroke-opacity", 0.35)
    .attr("stroke-width", 1).attr("stroke-dasharray", "4,3");
  grid.selectAll(".gx").data(xs).join("line").attr("class", "gx")
    .attr("x1", d => xScale(d)).attr("x2", d => xScale(d)).attr("y1", y0).attr("y2", y1);
  grid.selectAll(".gy").data(ys).join("line").attr("class", "gy")
    .attr("x1", x0).attr("x2", x1).attr("y1", d => yScale(d)).attr("y2", d => yScale(d));
}

function drawTitle(g, label, x0, base) {
  const t = g.append("text").attr("x", x0).attr("y", base)
    .style("font-family", TITLE).style("font-weight", "bold").style("font-size", "24px")
    .attr("fill", "#000").text(label);
  const fx = x0 + t.node().getComputedTextLength() + 7;
  // 1 / sigma_c^2 fraction
  g.append("text").attr("x", fx + 8).attr("y", base - 10).attr("text-anchor", "middle")
    .style("font-family", SERIF).style("font-weight", "bold").style("font-size", "12px").text("1");
  g.append("line").attr("x1", fx + 1).attr("x2", fx + 16).attr("y1", base - 6.5).attr("y2", base - 6.5)
    .attr("stroke", "#000").attr("stroke-width", 1);
  g.append("text").attr("x", fx + 2).attr("y", base + 5)
    .style("font-family", SERIF).style("font-style", "italic").style("font-weight", "bold").style("font-size", "13px").text("σ");
  g.append("text").attr("x", fx + 10).attr("y", base - 0.5)
    .style("font-family", SERIF).style("font-weight", "bold").style("font-size", "8px").text("2");
  g.append("text").attr("x", fx + 10).attr("y", base + 7.5)
    .style("font-family", SERIF).style("font-style", "italic").style("font-weight", "bold").style("font-size", "8px").text("c");
  const eq = g.append("text").attr("x", fx + 18).attr("y", base)
    .style("font-family", SERIF).style("font-weight", "bold").style("font-size", "18px").text("=10");
  const ex = fx + 18 + eq.node().getComputedTextLength() + 0.5;
  g.append("text").attr("x", ex).attr("y", base - 8)
    .style("font-family", SERIF).style("font-weight", "bold").style("font-size", "11px").text("9");
  g.append("text").attr("x", ex + 6).attr("y", base)
    .style("font-family", TITLE).style("font-weight", "bold").style("font-size", "24px").text(")");
}

function drawRow(cfg) {
  const top = cfg.top, bot = cfg.top + 206.5;
  const root = svg.append("g");

  // ---------- trajectory panel ----------
  const x = d3.scaleLinear().domain([1050, -50]).range([68, 959]);
  const y = d3.scaleLinear().domain(cfg.yDomain).range([bot, top]);
  gridLines(root, xTicks, scoreTicks, x, y, 68, 959, top, bot);

  const color = d3.scaleSequential(d3.interpolateViridis).domain(cfg.colorDomain);
  const traj = d3.line().x((d, i) => x(knotSteps[i])).y(d => y(d));
  root.append("g").selectAll("path").data(cfg.paths).join("path")
    .attr("d", traj).attr("fill", "none")
    .attr("stroke", d => color(d[d.length - 1]))
    .attr("stroke-width", 1.7).attr("stroke-opacity", 0.65)
    .attr("stroke-linejoin", "round");

  const meanPts = d3.zip(cfg.meanSteps, cfg.mean);
  const meanLine = d3.line().x(d => x(d[0])).y(d => y(d[1])).curve(d3.curveMonotoneX);
  root.append("path").attr("d", meanLine(meanPts)).attr("fill", "none")
    .attr("stroke", "#fff").attr("stroke-width", 4.5);
  root.append("path").attr("d", meanLine(meanPts)).attr("fill", "none")
    .attr("stroke", "#111").attr("stroke-width", 1.6);

  // "Imposing MCG" annotation
  const ax = x(600), tipY = y(cfg.note.tip), baseY = y(cfg.note.base);
  root.append("line").attr("x1", ax).attr("x2", ax).attr("y1", baseY).attr("y2", tipY + 10)
    .attr("stroke", "#ff0000").attr("stroke-width", 2.2);
  root.append("path").attr("d", `M${ax},${tipY} L${ax - 5},${tipY + 13} L${ax + 5},${tipY + 13} Z`)
    .attr("fill", "#ff0000");
  const nt = root.append("text").attr("x", x(cfg.note.textStep)).attr("y", y(cfg.note.textValue))
    .attr("fill", "#ff0000").style("font-family", TITLE).style("font-weight", "bold").style("font-size", "18px");
  nt.append("tspan").attr("x", x(cfg.note.textStep)).text("Imposing");
  nt.append("tspan").attr("x", x(cfg.note.textStep)).attr("dy", 22).text("MCG");

  root.append("rect").attr("x", 68).attr("y", top).attr("width", 891).attr("height", bot - top)
    .attr("fill", "none").attr("stroke", FRAME).attr("stroke-width", 1.2);

  const xa = root.append("g").attr("transform", `translate(0,${bot})`)
    .call(d3.axisBottom(x).tickValues(xTicks).tickFormat(d3.format("d")).tickSize(5).tickPadding(4));
  styleAxis(xa, 15);
  const ya = root.append("g").attr("transform", "translate(68,0)")
    .call(d3.axisLeft(y).tickValues(scoreTicks).tickFormat(d3.format("d")).tickSize(5).tickPadding(4));
  styleAxis(ya, 15);

  root.append("text").attr("x", 513.5).attr("y", bot + 49).attr("text-anchor", "middle")
    .style("font-family", SANS).style("font-size", "19px").attr("fill", "#111")
    .text("Reverse diffusion step (from prior to data)");
  root.append("text").attr("transform", `translate(25,${(top + bot) / 2}) rotate(-90)`)
    .attr("text-anchor", "middle").style("font-family", SANS).style("font-size", "19px").attr("fill", "#111")
    .text("PC1 score");

  drawTitle(root, cfg.title, 204, top - 18);

  // ---------- colour bar ----------
  const cb = d3.scaleLinear().domain(cfg.colorDomain).range([bot, top]);
  root.append("rect").attr("x", 977).attr("y", top).attr("width", 12).attr("height", bot - top)
    .attr("fill", "url(#viridis)").attr("stroke", FRAME).attr("stroke-width", 1);
  const ca = root.append("g").attr("transform", "translate(989,0)")
    .call(d3.axisRight(cb).tickValues(cfg.cbarTicks).tickFormat(d3.format(cfg.cbarFormat)).tickSize(5).tickPadding(4));
  styleAxis(ca, 14.5);
  root.append("text").attr("transform", `translate(${cfg.cbarLabelX},${(top + bot) / 2}) rotate(-90)`)
    .attr("text-anchor", "middle").attr("dominant-baseline", "central")
    .style("font-family", SANS).style("font-size", "16px").attr("fill", "#111")
    .text("Final PC1 score");

  // ---------- density panel ----------
  const dx = d3.scaleLinear().domain(cfg.densityDomain).range([1074, 1275]);
  gridLines(root, densityTicks, scoreTicks, dx, y, 1074, 1275, top, bot);
  const area = d3.area().y(d => y(d[0])).x0(dx(0)).x1(d => dx(d[1])).curve(d3.curveCatmullRom);
  const curve = d3.line().y(d => y(d[0])).x(d => dx(d[1])).curve(d3.curveCatmullRom);
  root.append("path").attr("d", area(cfg.density)).attr("fill", "#2ca02c").attr("fill-opacity", 0.25);
  root.append("path").attr("d", curve(cfg.density)).attr("fill", "none")
    .attr("stroke", "#2ca02c").attr("stroke-width", 3).attr("stroke-linecap", "square");
  root.append("rect").attr("x", 1074).attr("y", top).attr("width", 201).attr("height", bot - top)
    .attr("fill", "none").attr("stroke", FRAME).attr("stroke-width", 1.2);
  const da = root.append("g").attr("transform", `translate(0,${bot})`)
    .call(d3.axisBottom(dx).tickValues(densityTicks).tickFormat(d3.format(".2f")).tickSize(5).tickPadding(4));
  styleAxis(da, 14.5);
  const dl = root.append("g").attr("transform", "translate(1074,0)")
    .call(d3.axisLeft(y).tickValues(scoreTicks).tickFormat("").tickSize(5));
  styleAxis(dl, 14.5);
  root.append("text").attr("x", 1175).attr("y", bot + 45).attr("text-anchor", "middle")
    .style("font-family", SANS).style("font-size", "17.5px").attr("fill", "#111").text("Density");
}

drawRow({
  top: 45, title: "Cas-Sensing PC1 Trajectories (0.1% observation,",
  paths: casPaths, meanSteps: casMeanSteps, mean: casMean,
  yDomain: [-6.85, 11.2], colorDomain: casColorDomain,
  cbarTicks: casCbarTicks, cbarFormat: ".1f", cbarLabelX: 1050,
  density: casDensity, densityDomain: [-0.0065, 0.1391],
  note: { tip: 4.1, base: -1.0, textStep: 640, textValue: -2.7 }
});

drawRow({
  top: 367, title: "Uncond+MCG PC1 Trajectories (0.1% observation,",
  paths: uncondPaths, meanSteps: uncondMeanSteps, mean: uncondMean,
  yDomain: [-7.52, 14.6], colorDomain: uncondColorDomain,
  cbarTicks: uncondCbarTicks, cbarFormat: "d", cbarLabelX: 1030,
  density: uncondDensity, densityDomain: [-0.0063, 0.1344],
  note: { tip: 5.3, base: -0.9, textStep: 640, textValue: -3.0 }
});
</script>
</body>
</html>
